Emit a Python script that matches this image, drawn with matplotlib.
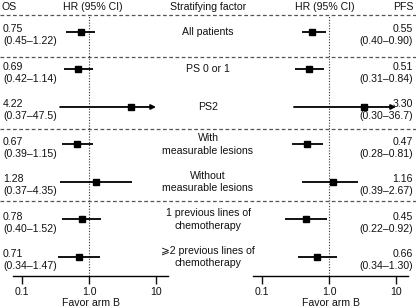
import matplotlib
matplotlib.use("Agg")
import matplotlib.pyplot as plt
import matplotlib.transforms as mtransforms
from matplotlib.ticker import NullLocator

plt.rcParams['font.family'] = ['Liberation Sans', 'DejaVu Sans']

factors = ["All patients", "PS 0 or 1", "PS2", "With\nmeasurable lesions",
           "Without\nmeasurable lesions", "1 previous lines of\nchemotherapy",
           "⩾2 previous lines of\nchemotherapy"]
os_hr = [0.75, 0.69, 4.22, 0.67, 1.28, 0.78, 0.71]
os_lo = [0.45, 0.42, 0.37, 0.39, 0.37, 0.40, 0.34]
os_hi = [1.22, 1.14, 47.5, 1.15, 4.35, 1.52, 1.47]
pfs_hr = [0.55, 0.51, 3.30, 0.47, 1.16, 0.45, 0.66]
pfs_lo = [0.40, 0.31, 0.30, 0.28, 0.39, 0.22, 0.34]
pfs_hi = [0.90, 0.84, 36.7, 0.81, 2.67, 0.92, 1.30]
tick_vals = [0.1, 1, 10]
tick_labels = ["0.1", "1.0", "10"]
display_max = 10

W, H = 416, 308
FS = 7.6
TXT = '#111111'
fig = plt.figure(figsize=(W / 100, H / 100), dpi=100)
bg = fig.add_axes([0, 0, 1, 1])
bg.set_xlim(0, W)
bg.set_ylim(H, 0)
bg.axis('off')


def fmt(v):
    return f"{v:.1f}" if v >= 10 else f"{v:.2f}"


def add_forest(x0, x1):
    ax = fig.add_axes([x0 / W, (H - 276) / H, (x1 - x0) / W, (276 - 15) / H])
    ax.set_xscale('log')
    ax.set_xlim(0.0734, 15.1)
    ax.set_ylim(6.507, -0.453)
    ax.patch.set_alpha(0)
    for s in ['top', 'left', 'right']:
        ax.spines[s].set_visible(False)
    ax.spines['bottom'].set_linewidth(1.0)
    ax.set_yticks([])
    ax.set_xticks(tick_vals)
    ax.set_xticklabels(tick_labels)
    ax.xaxis.set_minor_locator(NullLocator())
    ax.tick_params(axis='x', length=6, width=1, pad=2, labelsize=FS, colors=TXT)
    ax.axvline(1, color='#333333', lw=0.8, ls=(0, (1, 1.5)), zorder=1)
    ax.set_xlabel('Favor arm B', fontsize=FS, labelpad=1, color=TXT)
    return ax


def draw(ax, hr, lo, hi):
    for i, (h, l, u) in enumerate(zip(hr, lo, hi)):
        if u > display_max:
            ax.annotate('', xy=(display_max, i), xytext=(l, i),
                        arrowprops=dict(arrowstyle='-|>', lw=1.3, color='black',
                                        mutation_scale=7, shrinkA=0, shrinkB=0))
        else:
            ax.plot([l, u], [i, i], color='black', lw=1.3, solid_capstyle='butt')
        ax.plot([h], [i], marker='s', ms=5, color='black', zorder=3)


axL = add_forest(13, 168)
axR = add_forest(253, 408)
draw(axL, os_hr, os_lo, os_hi)
draw(axR, pfs_hr, pfs_lo, pfs_hi)

tr = mtransforms.blended_transform_factory(bg.transData, axL.transData)

# separators
for y in [0.67, 2.59, 4.51]:
    bg.plot([0, W], [y, y], transform=tr, color='#555555', lw=0.9, ls=(0, (3, 2)))
bg.plot([0, W], [15, 15], color='#555555', lw=0.9, ls=(0, (3, 2)))

# headers
bg.text(2, 7, 'OS', ha='left', va='center', fontsize=FS, color=TXT)
bg.text(93, 7, 'HR (95% CI)', ha='center', va='center', fontsize=FS, color=TXT)
bg.text(208, 7, 'Stratifying factor', ha='center', va='center', fontsize=FS, color=TXT)
bg.text(325, 7, 'HR (95% CI)', ha='center', va='center', fontsize=FS, color=TXT)
bg.text(414, 7, 'PFS', ha='right', va='center', fontsize=FS, color=TXT)

for i, f in enumerate(factors):
    bg.text(208, i, f, transform=tr, ha='center', va='center', fontsize=FS,
            color=TXT, linespacing=1.3)
    bg.text(3, i - 0.07, fmt(os_hr[i]), transform=tr, ha='left', va='center',
            fontsize=FS, color=TXT)
    bg.text(3, i + 0.25, f"({fmt(os_lo[i])}–{fmt(os_hi[i])})", transform=tr,
            ha='left', va='center', fontsize=FS, color=TXT)
    bg.text(413, i - 0.07, fmt(pfs_hr[i]), transform=tr, ha='right', va='center',
            fontsize=FS, color=TXT)
    bg.text(413, i + 0.25, f"({fmt(pfs_lo[i])}–{fmt(pfs_hi[i])})", transform=tr,
            ha='right', va='center', fontsize=FS, color=TXT)

fig.savefig('out.png', dpi=100)
